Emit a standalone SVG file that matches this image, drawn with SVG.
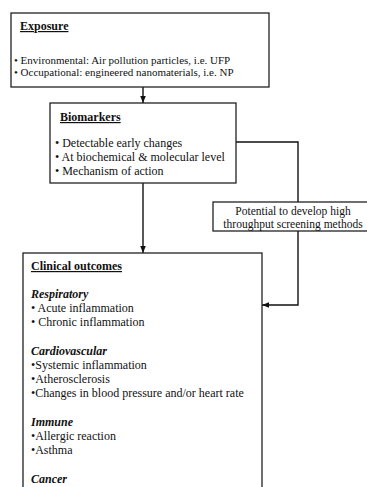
<svg xmlns="http://www.w3.org/2000/svg" width="367" height="487" viewBox="0 0 367 487">
<style>
.box{fill:#fff;stroke:#222;stroke-width:1.3}
.ln{fill:none;stroke:#111;stroke-width:1.4}
.t{font-size:12px;fill:#111}
.s{font-size:11px}
.h{font-weight:bold;text-decoration:underline}
.bi{font-weight:bold;font-style:italic}
</style>
<defs>
<marker id="ah" viewBox="0 0 10 10" refX="10" refY="5" markerWidth="5" markerHeight="5" orient="auto">
<path d="M0,1 L10,5 L0,9 z" fill="#111"/>
</marker>
</defs>
<rect width="367" height="487" fill="#fff"/>
<g id="connectors">
<line class="ln" x1="143" y1="87" x2="143" y2="103" marker-end="url(#ah)"/>
<line class="ln" x1="143" y1="183" x2="143" y2="253" marker-end="url(#ah)"/>
<polyline class="ln" points="236,142 298,142 298,202"/>
<polyline class="ln" points="298,231 298,305 262,305" marker-end="url(#ah)"/>
</g>
<g font-family="'Liberation Serif', 'Times New Roman', Times, 'DejaVu Serif', serif" class="t">
<g id="exposure">
<rect class="box" x="11" y="13" width="258" height="74"/>
<text class="h" x="20" y="30">Exposure</text>
<text class="s" x="14" y="64">• Environmental: Air pollution particles, i.e. UFP</text>
<text class="s" x="14" y="76">• Occupational: engineered nanomaterials, i.e. NP</text>
</g>
<g id="biomarkers">
<rect class="box" x="50" y="103" width="186" height="80"/>
<text class="h" x="60" y="121">Biomarkers</text>
<text x="55" y="147">• Detectable early changes</text>
<text x="55" y="161">• At biochemical &amp; molecular level</text>
<text x="55" y="175">• Mechanism of action</text>
</g>
<g id="potential">
<rect class="box" x="213" y="202" width="156" height="29"/>
<text x="293" y="214.5" text-anchor="middle" font-size="11.5">Potential to develop high</text>
<text x="293" y="227.5" text-anchor="middle" font-size="11.5">throughput screening methods</text>
</g>
<g id="clinical">
<rect class="box" x="23" y="253" width="239" height="250"/>
<text class="h" x="31" y="270">Clinical outcomes</text>
<text class="bi" x="31" y="298">Respiratory</text>
<text x="31" y="312">• Acute inflammation</text>
<text x="31" y="326">• Chronic inflammation</text>
<text class="bi" x="31" y="355">Cardiovascular</text>
<text x="31" y="369">•Systemic inflammation</text>
<text x="31" y="383">•Atherosclerosis</text>
<text x="31" y="397">•Changes in blood pressure and/or heart rate</text>
<text class="bi" x="31" y="426">Immune</text>
<text x="31" y="440">•Allergic reaction</text>
<text x="31" y="454">•Asthma</text>
<text class="bi" x="31" y="483">Cancer</text>
</g>
</g>
</svg>
